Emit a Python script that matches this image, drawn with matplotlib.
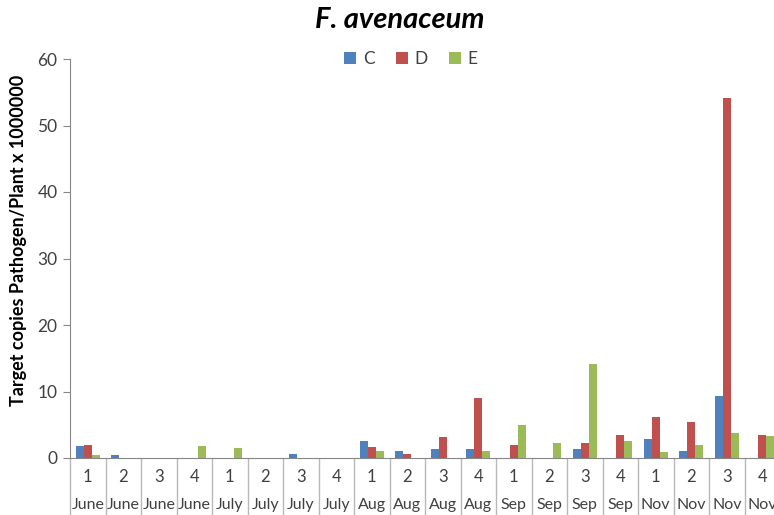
import matplotlib
matplotlib.use("Agg")
import matplotlib.pyplot as plt
import numpy as np

plt.rcParams["font.family"] = ["Lato", "DejaVu Sans"]

months = ["June"] * 4 + ["July"] * 4 + ["Aug"] * 4 + ["Sep"] * 4 + ["Nov"] * 4
weeks = ["1", "2", "3", "4"] * 5

C = [1.8, 0.4, 0, 0, 0, 0, 0.6, 0, 2.5, 1.0, 1.4, 1.4, 0, 0, 1.4, 0, 2.8, 1.0, 9.3, 0]
D = [1.9, 0, 0, 0, 0, 0, 0, 0, 1.7, 0.6, 3.2, 9.0, 1.9, 0, 2.2, 3.4, 6.1, 5.4, 54.2, 3.4]
E = [0.5, 0, 0, 1.8, 1.5, 0, 0, 0, 1.0, 0, 0, 1.1, 5.0, 2.2, 14.2, 2.5, 0.9, 2.0, 3.7, 3.3]

series = {"C": C, "D": D, "E": E}
colors = ["#4F81BD", "#C0504D", "#9BBB59"]

fig = plt.figure(figsize=(7.74, 5.15), dpi=100)
ax = fig.add_axes([70 / 774, 1 - 458 / 515, 710 / 774, 399 / 515])

x = np.arange(len(months))
w = 0.225
for i, ((name, vals), col) in enumerate(zip(series.items(), colors)):
    ax.bar(x + (i - 1) * w, vals, w, color=col, label=name, linewidth=0)

ax.set_xlim(-0.5, len(months) - 0.5)
ax.set_ylim(0, 60)
ax.set_yticks(range(0, 61, 10))
ax.tick_params(axis="y", direction="out", length=5, color="#868686",
               labelsize=12.5, labelcolor="#404040", pad=4)
ax.set_xticks([])
for s in ["top", "right"]:
    ax.spines[s].set_visible(False)
for s in ["left", "bottom"]:
    ax.spines[s].set_color("#868686")

# two-level category labels
tr = ax.get_xaxis_transform()
for xi, (wk, mo) in enumerate(zip(weeks, months)):
    ax.text(xi, -0.048, wk, transform=tr, ha="center", va="center",
            fontsize=12, color="#404040")
    ax.text(xi, -0.118, mo, transform=tr, ha="center", va="center",
            fontsize=11.5, color="#404040")
ax.vlines(np.arange(-0.5, len(months)), -0.16, 0, transform=tr,
          colors="#b8b8b8", linewidth=1, clip_on=False)

ax.legend(loc="center", bbox_to_anchor=(0.48, 1.0), ncol=3, frameon=False,
          fontsize=12.5, handlelength=0.7, handleheight=0.7, handletextpad=0.4,
          columnspacing=1.2, labelcolor="#404040")

fig.text(19 / 774, 1 - 240 / 515,
         "Target copies Pathogen/Plant x 1000000", rotation=90,
         ha="center", va="center", fontsize=13, fontweight="bold")
fig.text(400 / 774, 1 - 20 / 515, "F. avenaceum", ha="center", va="center",
         fontsize=21, fontweight="bold", style="italic")

fig.savefig("out.png", dpi=100)
